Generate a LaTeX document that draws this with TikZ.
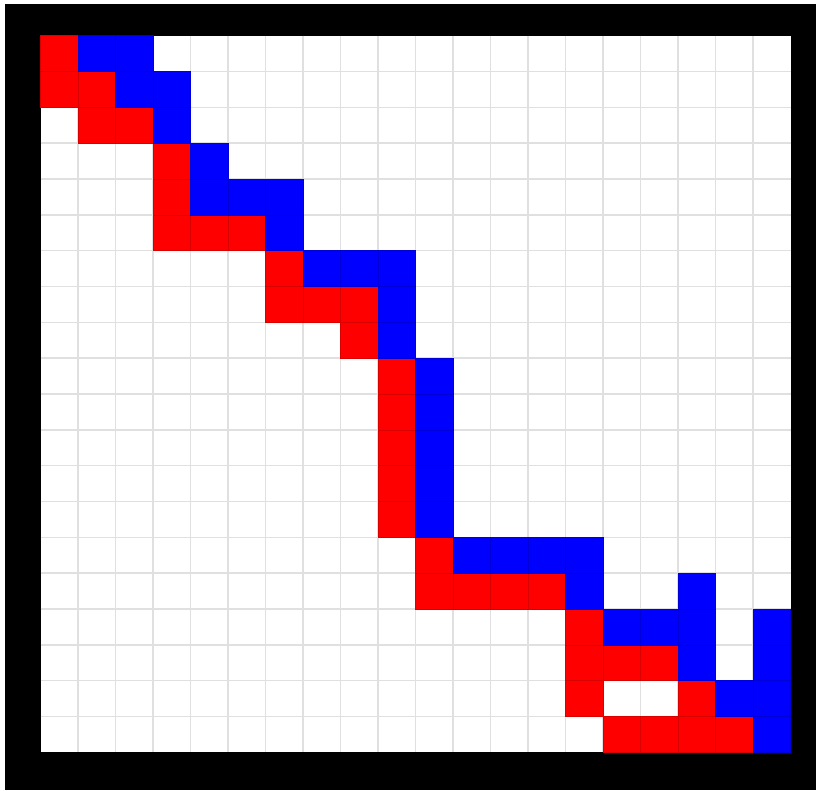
\documentclass[tikz,border=0pt]{standalone}
\begin{document}
\begin{tikzpicture}[x=1pt,y=-1pt,
  redcell/.style={fill=red, draw=red!85!black, line width=0.4pt},
  bluecell/.style={fill=blue, draw=blue!85!black, line width=0.4pt},
  gridline/.style={draw=black!12, line width=1.6pt}]
\useasboundingbox (0,0) rectangle (816,791);
\fill[white] (0,0) rectangle (816,791);
\fill[black] (5,4) rectangle (816,790);
\fill[white] (40.5,35.7) rectangle (790.5,752.3);
\foreach \i in {1,...,19} {
  \draw[gridline] ({40.5+\i*37.5},35.7) -- ({40.5+\i*37.5},752.3);
  \draw[gridline] (40.5,{35.7+\i*35.83}) -- (790.5,{35.7+\i*35.83});
}
\foreach \r/\c in {0/0,1/0,1/1,2/1,2/2,3/3,4/3,5/3,5/4,5/5,6/6,7/6,7/7,7/8,8/8,
  9/9,10/9,11/9,12/9,13/9,14/10,15/10,15/11,15/12,15/13,16/14,17/14,17/15,17/16,
  18/14,18/17,19/15,19/16,19/17,19/18}
  \path[redcell] ({40.5+\c*37.5},{35.7+\r*35.83}) rectangle +(37.5,35.83);
\foreach \r/\c in {0/1,0/2,1/2,1/3,2/3,3/4,4/4,4/5,4/6,5/6,6/7,6/8,6/9,7/9,8/9,
  9/10,10/10,11/10,12/10,13/10,14/11,14/12,14/13,14/14,15/14,15/17,16/15,16/16,
  16/17,16/19,17/17,17/19,18/18,18/19,19/19}
  \path[bluecell] ({40.5+\c*37.5},{35.7+\r*35.83}) rectangle +(37.5,35.83);
\end{tikzpicture}
\end{document}
